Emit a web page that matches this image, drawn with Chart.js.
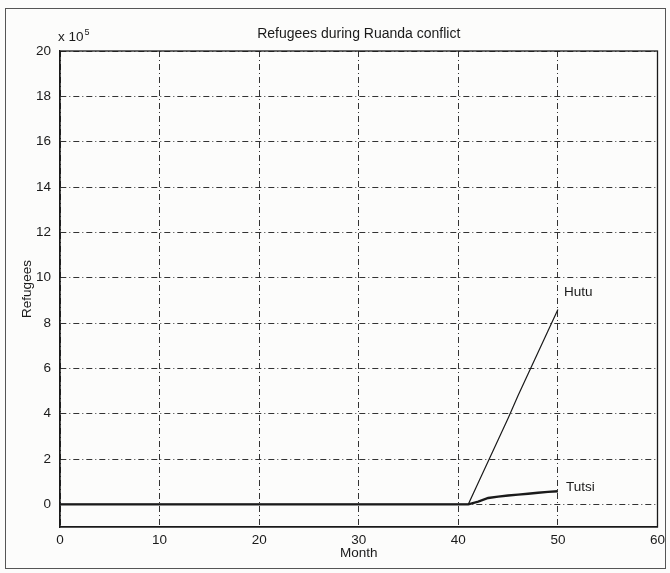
<!DOCTYPE html>
<html>
<head>
<meta charset="utf-8">
<script src="https://cdn.jsdelivr.net/npm/chart.js@4/dist/chart.umd.min.js"></script>
<style>
  html, body { margin: 0; padding: 0; background: #fcfcfb; }
  #wrap { position: relative; width: 670px; height: 573px; }
  #frame {
    position: absolute; left: 5px; top: 8px; width: 661px; height: 561px;
    border: 1px solid #555; box-sizing: border-box; pointer-events: none;
  }
  canvas { position: absolute; left: 0; top: 0; }
</style>
</head>
<body>
<div id="wrap">
  <div id="frame"></div>
  <canvas id="refugeeChart" width="670" height="573"></canvas>
</div>
<script>
// Values are in units of 10^5 refugees
const months = [0, 41, 42, 43, 44, 45, 46, 47, 48, 49, 50];
const hutu = [0, 0, 0.95, 1.9, 2.85, 3.8, 4.8, 5.75, 6.7, 7.65, 8.6];
const tutsi = [0, 0, 0.12, 0.28, 0.34, 0.39, 0.43, 0.47, 0.51, 0.55, 0.58];
const xTicks = [0, 10, 20, 30, 40, 50, 60];
const yTicks = [0, 2, 4, 6, 8, 10, 12, 14, 16, 18, 20];

const FONT = "'Liberation Sans', Arial, Helvetica, sans-serif";
const INK = "#1a1a1a";

function toPoints(xs, ys) {
  return xs.map((x, i) => ({ x: x, y: ys[i] }));
}

// Box around plot, title, exponent and line labels
const decorations = {
  id: "decorations",
  afterDraw(chart) {
    const ctx = chart.ctx;
    const area = chart.chartArea;
    const xs = chart.scales.x;
    const ys = chart.scales.y;
    ctx.save();
    ctx.strokeStyle = INK;
    ctx.lineWidth = 1.3;
    ctx.strokeRect(area.left, area.top, area.right - area.left, area.bottom - area.top);

    ctx.fillStyle = INK;
    ctx.textBaseline = "alphabetic";
    ctx.font = "14px " + FONT;
    ctx.textAlign = "center";
    ctx.fillText("Refugees during Ruanda conflict", (area.left + area.right) / 2, area.top - 13);

    ctx.textAlign = "left";
    ctx.font = "13.5px " + FONT;
    ctx.fillText("x 10", area.left - 2, area.top - 10);
    const w = ctx.measureText("x 10").width;
    ctx.font = "9px " + FONT;
    ctx.fillText("5", area.left - 2 + w + 1, area.top - 16);

    ctx.font = "13.5px " + FONT;
    const lastX = months[months.length - 1];
    ctx.fillText("Hutu", xs.getPixelForValue(lastX) + 6, ys.getPixelForValue(hutu[hutu.length - 1]) - 13);
    ctx.fillText("Tutsi", xs.getPixelForValue(lastX) + 8, ys.getPixelForValue(tutsi[tutsi.length - 1]));
    ctx.restore();
  },
};

new Chart(document.getElementById("refugeeChart"), {
  type: "line",
  data: {
    datasets: [
      {
        label: "Tutsi",
        data: toPoints(months, tutsi),
        borderColor: INK,
        borderWidth: 2.4,
        pointRadius: 0,
        tension: 0,
      },
      {
        label: "Hutu",
        data: toPoints(months, hutu),
        borderColor: INK,
        borderWidth: 1.2,
        pointRadius: 0,
        tension: 0,
      },
    ],
  },
  options: {
    responsive: false,
    animation: false,
    layout: { padding: { top: 51, right: 12, left: 0, bottom: 0 } },
    plugins: {
      legend: { display: false },
      tooltip: { enabled: false },
    },
    scales: {
      x: {
        type: "linear",
        min: 0,
        max: 60,
        afterBuildTicks: (scale) => {
          scale.ticks = xTicks.map((v) => ({ value: v }));
        },
        afterFit: (scale) => {
          scale.height = 46;
        },
        grid: { color: "#333", lineWidth: 1, drawTicks: false },
        border: { display: true, color: INK, width: 1.3, dash: [6, 3, 1, 3] },
        ticks: {
          padding: 5,
          color: INK,
          font: { family: FONT, size: 13.5 },
          maxRotation: 0,
        },
        title: {
          display: true,
          text: "Month",
          color: INK,
          font: { family: FONT, size: 13.5 },
          padding: { top: 0, bottom: 12 },
        },
      },
      y: {
        min: -1,
        max: 20,
        afterBuildTicks: (scale) => {
          scale.ticks = yTicks.map((v) => ({ value: v }));
        },
        afterFit: (scale) => {
          scale.width = 60;
        },
        grid: { color: "#333", lineWidth: 1, drawTicks: false },
        border: { display: true, color: INK, width: 1.3, dash: [6, 3, 1, 3] },
        ticks: {
          padding: 9,
          color: INK,
          font: { family: FONT, size: 13.5 },
        },
        title: {
          display: true,
          text: "Refugees",
          color: INK,
          font: { family: FONT, size: 13.5 },
          padding: { top: 19, bottom: 0 },
        },
      },
    },
  },
  plugins: [decorations],
});
</script>
</body>
</html>
